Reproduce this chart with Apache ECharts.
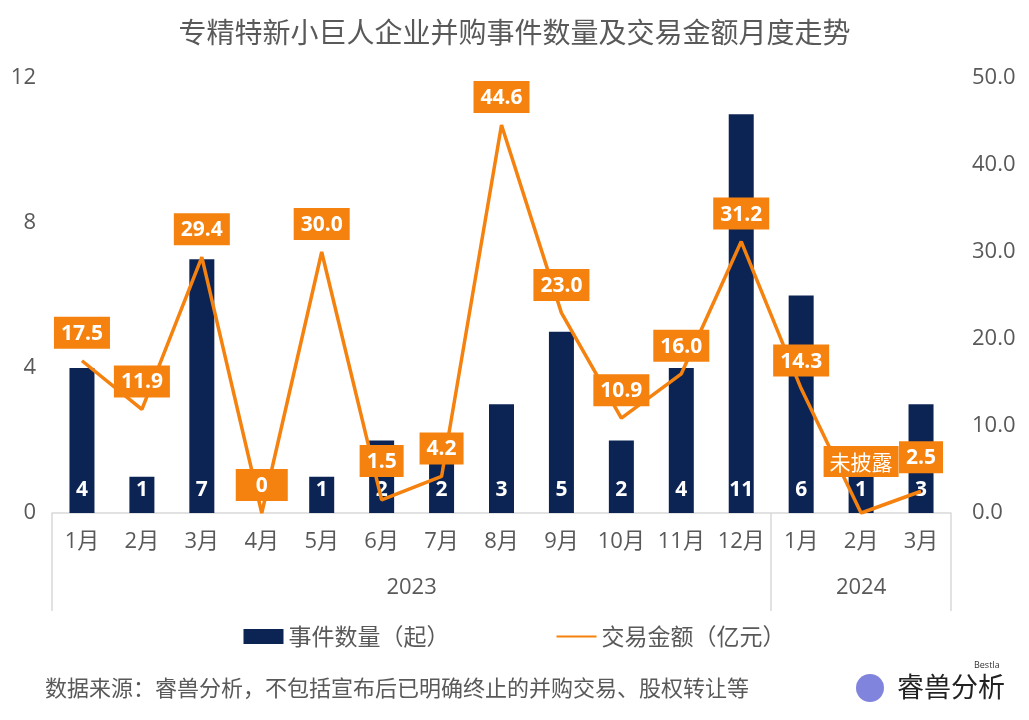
<!DOCTYPE html>
<html>
<head>
<meta charset="utf-8">
<script src="https://cdn.jsdelivr.net/npm/echarts@6/dist/echarts.min.js"></script>
<style>
html,body{margin:0;padding:0;background:#fff;}
#chart{width:1029px;height:720px;}
</style>
</head>
<body>
<div id="chart"></div>
<script>
// ---- data ----
var months = ['1月','2月','3月','4月','5月','6月','7月','8月','9月','10月','11月','12月','1月','2月','3月'];
var years = ['2023','2024'];
var yearSpans = [12, 3];
var eventCounts = [4, 1, 7, 0, 1, 2, 2, 3, 5, 2, 4, 11, 6, 1, 3];
var dealAmounts = [17.5, 11.9, 29.4, 0, 30.0, 1.5, 4.2, 44.6, 23.0, 10.9, 16.0, 31.2, 14.3, 0, 2.5];
var amountLabels = ['17.5','11.9','29.4','0','30.0','1.5','4.2','44.6','23.0','10.9','16.0','31.2','14.3','未披露','2.5'];
var leftTicks = [0, 4, 8, 12];
var rightTicks = [0, 10, 20, 30, 40, 50];

var FONT = '"Open Sans","Noto Sans CJK SC",sans-serif';
var CJK = '"Noto Sans CJK SC",sans-serif';
var GRAY = '#595959';
var NAVY = '#0C2453';
var ORANGE = '#F5820F';

// year boundaries and centres (category units)
var bounds = [0], centres = [];
yearSpans.forEach(function (s, i) { centres.push(bounds[i] + s / 2); bounds.push(bounds[i] + s); });

// per-point label style tweaks
var labelTweaks = {
  3: { padding: [5, 20, 3, 20] },
  5: { distance: 23 },
  13: { distance: 36, fontWeight: 'normal', fontFamily: CJK, padding: [4, 6, 3, 6] },
  14: { distance: 18, padding: [5, 7, 3, 7] }
};
var lineData = dealAmounts.map(function (v, i) {
  var item = { value: v };
  if (labelTweaks[i]) item.label = labelTweaks[i];
  return item;
});

var chart = echarts.init(document.getElementById('chart'), null, { renderer: 'canvas' });
chart.setOption({
  animation: false,
  backgroundColor: '#fff',
  textStyle: { fontFamily: FONT },
  title: {
    text: '专精特新小巨人企业并购事件数量及交易金额月度走势',
    left: 'center', top: 13,
    textStyle: { fontFamily: CJK, fontSize: 28, fontWeight: 'normal', color: GRAY }
  },
  legend: {
    bottom: 67, left: 'center',
    itemWidth: 40, itemHeight: 15, itemGap: 106,
    textStyle: { fontFamily: CJK, fontSize: 23, color: GRAY },
    data: [
      { name: '事件数量（起）', icon: 'rect' },
      { name: '交易金额（亿元）', itemStyle: { opacity: 0 } }
    ]
  },
  grid: { left: 52, right: 78, top: 78, bottom: 207, containLabel: false },
  xAxis: [
    {
      type: 'category', data: months, position: 'bottom',
      axisLine: { show: true, lineStyle: { color: '#d9d9d9', width: 1.5 } },
      axisTick: { show: false },
      axisLabel: { fontSize: 22, color: GRAY, margin: 18, interval: 0, fontFamily: FONT }
    },
    {
      type: 'value', min: 0, max: bounds[bounds.length - 1], position: 'bottom',
      axisLine: { show: false },
      splitLine: { show: false },
      axisTick: { show: true, customValues: bounds, length: 98, lineStyle: { color: '#d9d9d9', width: 1.5 } },
      axisLabel: {
        show: true, customValues: centres, margin: 64, fontSize: 22, color: GRAY,
        formatter: function (v) { var k = centres.indexOf(v); return k >= 0 ? years[k] : ''; }
      }
    }
  ],
  yAxis: [
    {
      type: 'value', min: leftTicks[0], max: leftTicks[leftTicks.length - 1], interval: leftTicks[1] - leftTicks[0],
      axisLine: { show: false }, axisTick: { show: false }, splitLine: { show: false },
      axisLabel: { fontSize: 22, color: GRAY, margin: 16 }
    },
    {
      type: 'value', min: rightTicks[0], max: rightTicks[rightTicks.length - 1], interval: rightTicks[1] - rightTicks[0],
      position: 'right',
      axisLine: { show: false }, axisTick: { show: false }, splitLine: { show: false },
      axisLabel: { fontSize: 22, color: GRAY, margin: 21, formatter: function (v) { return v.toFixed(1); } }
    }
  ],
  series: [
    {
      name: '事件数量（起）', type: 'bar', data: eventCounts, barWidth: 25,
      itemStyle: { color: NAVY },
      label: {
        show: true, position: 'insideBottom', distance: 12, color: '#fff',
        fontWeight: 'bold', fontSize: 21, fontFamily: FONT,
        formatter: function (p) { return p.value > 0 ? p.value : ''; }
      },
      z: 2
    },
    {
      name: '交易金额（亿元）', type: 'line', yAxisIndex: 1, data: lineData,
      symbol: 'circle', symbolSize: 0,
      lineStyle: { color: ORANGE, width: 3.5 },
      itemStyle: { color: ORANGE },
      label: {
        show: true, position: 'top', distance: 12,
        backgroundColor: ORANGE, color: '#fff', fontWeight: 'bold', fontSize: 21, fontFamily: FONT,
        padding: [5, 7, 3, 7], lineHeight: 24,
        formatter: function (p) { return amountLabels[p.dataIndex]; }
      },
      z: 3
    }
  ],
  graphic: [
    {
      type: 'text', left: 45, top: 677,
      style: { text: '数据来源：睿兽分析，不包括宣布后已明确终止的并购交易、股权转让等', fontFamily: CJK, fontSize: 22, fill: GRAY }
    },
    {
      type: 'circle', shape: { cx: 870, cy: 688, r: 14 },
      style: { fill: '#6b6fd6', opacity: 0.85 }
    },
    {
      type: 'text', left: 897, top: 673,
      style: { text: '睿兽分析', fontFamily: CJK, fontSize: 27, fill: '#222' }
    },
    {
      type: 'text', left: 974, top: 661,
      style: { text: 'Bestla', fontFamily: FONT, fontSize: 9, fill: '#333' }
    }
  ]
});
</script>
</body>
</html>
